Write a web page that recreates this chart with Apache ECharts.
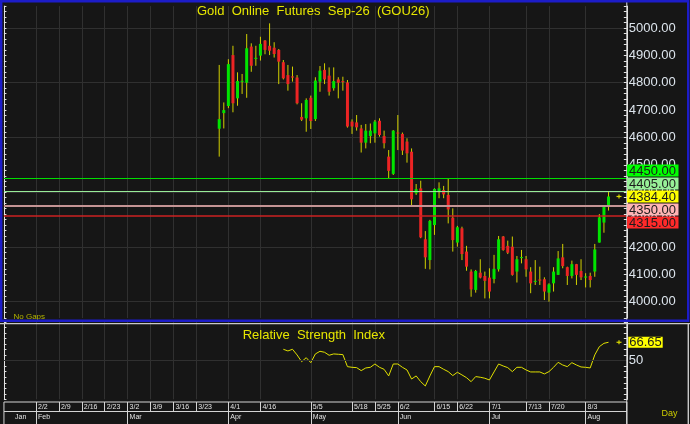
<!DOCTYPE html>
<html>
<head>
<meta charset="utf-8">
<script src="https://cdn.jsdelivr.net/npm/echarts@6/dist/echarts.min.js"></script>
<style>
html,body{margin:0;padding:0;background:#161616;}
#c{width:690px;height:424px;}
</style>
</head>
<body>
<div id="c"></div>
<script>
// ---------------- data ----------------
const N = 137;                 // day slots on the time axis
const firstCandleSlot = 47;    // slot of the first trading bar

const opens  = [4632,4689,4715,4901,4743,4804,4800,4932,4887,4899,4954,4935,4928,4920,4875,4828,4823,4819,4675,4670,
                4745,4667,4804,4847,4826,4780,4812,4806,4801,4658,4655,4633,4581,4605,4615,4661,4605,4530,4467,4618,
                4613,4585,4548,4396,4414,4228,4152,4280,4404,4408,4390,4307,4216,4268,4183,4110,4043,4106,4094,4088,
                4083,4118,4238,4204,4201,4110,4160,4155,4110,4073,4081,4082,4033,4067,4098,4162,4126,4094,4137,4112,
                4088,4094,4110,4216,4289,4350];
const closes = [4667,4700,4868,4725,4806,4807,4926,4862,4891,4942,4920,4917,4905,4877,4816,4795,4819,4725,4665,4737,
                4660,4808,4844,4812,4767,4806,4800,4802,4640,4640,4637,4581,4625,4625,4658,4609,4579,4478,4625,4615,
                4552,4542,4374,4411,4235,4162,4295,4412,4414,4392,4337,4225,4272,4174,4128,4045,4112,4088,4076,4037,
                4120,4228,4189,4179,4098,4155,4163,4118,4067,4076,4077,4037,4063,4110,4158,4130,4094,4137,4098,4089,
                4092,4079,4191,4308,4347,4384.40];
const lows   = [4530,4633,4707,4692,4716,4759,4745,4840,4862,4881,4904,4901,4892,4795,4812,4771,4804,4721,4660,4621,
                4631,4660,4767,4795,4753,4771,4743,4771,4636,4613,4625,4545,4560,4579,4581,4603,4560,4451,4463,4554,
                4536,4508,4347,4390,4232,4120,4118,4244,4378,4378,4286,4183,4201,4152,4113,4018,4033,4085,4012,4012,
                4067,4110,4186,4174,4095,4070,4140,4091,4031,4061,4061,4006,4000,4037,4098,4122,4061,4085,4061,4079,
                4052,4052,4091,4216,4252,4333];
const highs  = [4865,4728,4886,4935,4838,4832,4978,4944,4935,4968,4956,5017,4948,4923,4883,4865,4859,4828,4725,4743,
                4753,4820,4861,4871,4856,4856,4820,4822,4810,4666,4682,4646,4649,4651,4664,4670,4625,4554,4627,4682,
                4618,4597,4560,4430,4442,4258,4299,4414,4436,4423,4451,4341,4277,4274,4204,4118,4116,4155,4110,4122,
                4171,4240,4240,4223,4238,4167,4189,4167,4126,4152,4128,4089,4067,4126,4185,4211,4128,4150,4138,4155,
                4104,4106,4211,4320,4350,4402];

const rsiStart = 14;   // bar index where the RSI line begins
const rsiValues = [60.3,58.8,60.3,55.2,49.1,52.7,48.2,56.1,58.5,57.6,54.9,56.1,55.8,55.5,
                   44.6,44.0,43.7,41.0,43.4,44.0,47.0,44.0,42.2,36.2,47.0,47.0,44.0,41.6,33.4,36.2,31.0,27.1,
                   36.2,44.6,44.6,42.2,40.1,36.5,39.5,37.1,34.6,31.0,35.6,35.0,34.1,32.5,39.8,47.0,45.2,43.7,
                   40.1,44.0,44.0,41.6,39.8,39.8,39.8,38.0,40.1,44.0,48.5,46.1,44.6,48.2,46.1,44.3,44.0,43.4,
                   55.2,62.7,65.7,66.65];

const weekLabels = ['2/2','2/9','2/16','2/23','3/2','3/9','3/16','3/23','4/1','4/16','5/5','5/18','5/25','6/2','6/15','6/22','7/1','7/13','7/20','8/3'];
const weekSlots  = [7,12,17,22,27,32,37,42,49,56,67,76,81,86,94,99,106,114,119,127];
const monthLabels = ['Jan','Feb','Mar','Apr','May','Jun','Jul','Aug'];
const monthSlots  = [2,7,27,49,67,86,106,127];   // Jan label sits inside the partial first month

const levelValues = [4450.00, 4405.00, 4350.00, 4315.00];
const lastPrice = 4384.40;
const titleText = 'Gold  Online  Futures  Sep-26  (GOU26)';
const rsiTitle = 'Relative  Strength  Index';

// ---------------- style ----------------
const FONT = '"Liberation Sans", Arial, sans-serif';
const GRID_LINE = '#303030';
const AXIS_WHITE = '#e2e2e2';
const LABEL = '#dce4ec';
const YELLOW = '#e6e600';
const levelStyles = [
  {line:'#00dd00', width:1.2, tag:'#00ff00'},
  {line:'#98ec98', width:1,   tag:'#98f098'},
  {line:'#c49494', width:2,   tag:'#ffb4b4'},
  {line:'#cc2222', width:1.5, tag:'#ff2a2a'}
];
const GL = 3.94, GW = 622.9;

// ---------------- build ----------------
const cats = Array.from({length:N}, (_, i) => String(i));
const weekAt = {}; weekSlots.forEach((s, i) => weekAt[s] = weekLabels[i]);
const monthAt = {}; monthSlots.forEach((s, i) => monthAt[s] = monthLabels[i]);
const monthBoundary = {}; monthSlots.slice(1).forEach(s => monthBoundary[s] = true);
const isWeek = (i) => weekAt[i] !== undefined;

const candleData = opens.map((o, j) => [firstCandleSlot + j, o, closes[j], lows[j], highs[j]]);
const rsiData = Array.from({length:N}, () => '-');
rsiValues.forEach((v, i) => { rsiData[firstCandleSlot + rsiStart + i] = v; });

function hiddenX(gridIndex){
  return {type:'category', data:cats, boundaryGap:false, gridIndex, show:false};
}
function gridX(gridIndex){
  return {type:'category', data:cats, boundaryGap:false, gridIndex,
    axisLine:{show:false}, axisTick:{show:false}, axisLabel:{show:false},
    splitLine:{show:true, interval:(i)=>isWeek(i), lineStyle:{color:GRID_LINE, width:1}}};
}
function tickY(gridIndex, pos, min, max, interval, len, labels){
  return {type:'value', gridIndex, position:pos, min, max, interval,
    axisLine:{show:true, lineStyle:{color:AXIS_WHITE, width:1}},
    axisTick:{show:true, inside:true, length:len, lineStyle:{color:AXIS_WHITE, width:1}},
    axisLabel: labels || {show:false},
    splitLine:{show:false}};
}

const option = {
  animation:false,
  backgroundColor:'#161616',
  textStyle:{fontFamily:FONT},
  grid:[
    {left:GL, top:6.1,  width:GW, height:312,   outerBoundsMode:'none'},
    {left:GL, top:28.0, width:GW, height:273.7, outerBoundsMode:'none'},
    {left:GL, top:322.0,width:GW, height:77.35, outerBoundsMode:'none'},
    {left:GL, top:402,  width:GW, height:9.5, show:true, borderColor:'#d4d4d4', borderWidth:1, backgroundColor:'transparent', outerBoundsMode:'none'},
    {left:GL, top:411.5,width:GW, height:14,  show:true, borderColor:'#d4d4d4', borderWidth:1, backgroundColor:'transparent', outerBoundsMode:'none'}
  ],
  xAxis:[
    gridX(0),
    hiddenX(1),
    gridX(2),
    {type:'category', data:cats, boundaryGap:false, gridIndex:3, position:'top',
      axisLine:{show:false}, axisTick:{show:false},
      splitLine:{show:true, interval:(i)=>isWeek(i), lineStyle:{color:'#d4d4d4', width:1}},
      axisLabel:{show:true, inside:true, interval:(i)=>isWeek(i), formatter:(v, i)=>weekAt[i] || '',
        align:'left', verticalAlign:'middle', margin:4.75, padding:[0,0,0,2],
        fontSize:7, color:'#e4e4e4', fontFamily:FONT, hideOverlap:false}},
    {type:'category', data:cats, boundaryGap:false, gridIndex:4, position:'top',
      axisLine:{show:false}, axisTick:{show:false},
      splitLine:{show:true, interval:(i)=>monthBoundary[i] === true, lineStyle:{color:'#d4d4d4', width:1}},
      axisLabel:{show:true, inside:true, interval:(i)=>monthAt[i] !== undefined, formatter:(v, i)=>monthAt[i] || '',
        align:'left', verticalAlign:'middle', margin:6, padding:[0,0,0,2],
        fontSize:7, color:'#e4e4e4', fontFamily:FONT, hideOverlap:false}}
  ],
  yAxis:[
    tickY(0, 'right', 3940, 5080, 20, 3),
    tickY(0, 'left', 3940, 5080, 20, 2.5),
    {type:'value', gridIndex:1, position:'right', min:4000, max:5000, interval:100,
      axisLine:{show:false}, axisTick:{show:false}, splitLine:{show:false},
      axisLabel:{show:true, margin:2, formatter:(v)=>v.toFixed(2), color:LABEL, fontSize:13, fontFamily:FONT, hideOverlap:false}},
    {type:'value', gridIndex:1, position:'left', min:4000, max:5000, interval:200,
      axisLine:{show:false}, axisTick:{show:false}, axisLabel:{show:false},
      splitLine:{show:true, lineStyle:{color:GRID_LINE, width:1}}},
    tickY(2, 'right', 15, 85, 5, 3, {show:true, margin:2, formatter:(v)=> v === 50 ? '50' : '',
      color:LABEL, fontSize:13, fontFamily:FONT, hideOverlap:false}),
    tickY(2, 'left', 15, 85, 5, 2.5),
    {type:'value', gridIndex:3, show:false},
    {type:'value', gridIndex:4, show:false}
  ],
  series:[
    {
      type:'custom', name:'GOU26', xAxisIndex:0, yAxisIndex:0, clip:true,
      data:candleData, encode:{x:0, y:[1,2,3,4]},
      renderItem:function(params, api){
        const x = api.value(0), o = api.value(1), c = api.value(2), l = api.value(3), h = api.value(4);
        const pO = api.coord([x, o]), pC = api.coord([x, c]);
        const pL = api.coord([x, l]), pH = api.coord([x, h]);
        const bw = 3;
        const top = Math.min(pO[1], pC[1]);
        const hgt = Math.max(1, Math.abs(pO[1] - pC[1]));
        const up = c >= o;
        return {type:'group', children:[
          {type:'line', shape:{x1:pH[0], y1:pH[1], x2:pL[0], y2:pL[1]}, style:{stroke:'#d2d000', lineWidth:1}},
          {type:'rect', shape:{x:pO[0]-bw/2, y:top, width:bw, height:hgt}, style:{fill: up ? '#00e400' : '#ec2424'}}
        ]};
      },
      markLine:{
        silent:true, symbol:['none','none'], label:{show:false}, animation:false,
        data: levelValues.map((v, i) => ({yAxis:v, lineStyle:{color:levelStyles[i].line, width:levelStyles[i].width, type:'solid'}}))
      }
    },
    {
      type:'line', name:'RSI', xAxisIndex:2, yAxisIndex:4, data:rsiData,
      showSymbol:false, symbol:'none', connectNulls:false,
      lineStyle:{color:'#e0e000', width:1},
      markLine:{silent:true, symbol:['none','none'], label:{show:false}, animation:false,
        data:[{yAxis:50, lineStyle:{color:GRID_LINE, width:1, type:'solid'}}]}
    }
  ]
};

const chart = echarts.init(document.getElementById('c'), null, {renderer:'canvas'});
chart.setOption(option);

// ---------------- overlays (tags, titles, frames) ----------------
const yPrice = v => chart.convertToPixel({yAxisIndex:0}, v);
const yRsi = v => chart.convertToPixel({yAxisIndex:4}, v);

const tags = levelValues.map((v, i) => ({v, bg:levelStyles[i].tag}))
  .concat([{v:lastPrice, bg:'#ffff00', last:true}])
  .sort((a, b) => b.v - a.v);
const anchor = tags.findIndex(t => t.last);
const anchorY = yPrice(lastPrice);
const TAG_STEP = 13;
const g = [];
tags.forEach((t, k) => {
  const yc = anchorY + (k - anchor) * TAG_STEP;
  g.push({type:'rect', z:100, shape:{x:627, y:yc-6, width:51.5, height:12}, style:{fill:t.bg}});
  g.push({type:'text', z:101, x:629, y:yc+0.5, style:{text:t.v.toFixed(2), fill:'#1c1c1c', font:'13px '+FONT, align:'left', verticalAlign:'middle'}});
});
function plus(x, y){
  g.push({type:'line', z:101, shape:{x1:x-2.5, y1:y, x2:x+2.5, y2:y}, style:{stroke:'#d8d800', lineWidth:1.2}});
  g.push({type:'line', z:101, shape:{x1:x, y1:y-2, x2:x, y2:y+2}, style:{stroke:'#d8d800', lineWidth:1.2}});
}
plus(619, anchorY);
const lastRsi = rsiValues[rsiValues.length - 1];
const ry = yRsi(lastRsi);
plus(619, ry);
g.push({type:'rect', z:100, shape:{x:628.3, y:ry-5.5, width:34.4, height:11}, style:{fill:'#ffff00'}});
g.push({type:'text', z:101, x:629.3, y:ry+0.5, style:{text:lastRsi.toFixed(2), fill:'#1c1c1c', font:'13px '+FONT, align:'left', verticalAlign:'middle'}});

// titles and notes
g.push({type:'text', z:101, x:197, y:11.5, style:{text:titleText, fill:YELLOW, font:'13px '+FONT, align:'left', verticalAlign:'middle'}});
g.push({type:'text', z:101, x:242.7, y:335.5, style:{text:rsiTitle, fill:YELLOW, font:'13px '+FONT, align:'left', verticalAlign:'middle'}});
g.push({type:'text', z:101, x:13.5, y:317, style:{text:'No Gaps', fill:'#b4b400', font:'8px '+FONT, align:'left', verticalAlign:'middle'}});
g.push({type:'text', z:101, x:661.5, y:413.5, style:{text:'Day', fill:'#cccc00', font:'9px '+FONT, align:'left', verticalAlign:'middle'}});

// frames
g.push({type:'line', z:99, shape:{x1:626.8, y1:0, x2:626.8, y2:424}, style:{stroke:AXIS_WHITE, lineWidth:1}});
g.push({type:'rect', z:102, shape:{x:1.2, y:1.2, width:687, height:319.6}, style:{fill:'none', stroke:'#1c1cc8', lineWidth:2.4}});
g.push({type:'line', z:102, shape:{x1:0, y1:323.6, x2:690, y2:323.6}, style:{stroke:'#c8c8c8', lineWidth:1.4}});
g.push({type:'line', z:102, shape:{x1:688.3, y1:323.6, x2:688.3, y2:424}, style:{stroke:'#c8c8c8', lineWidth:1.4}});

chart.setOption({graphic:{elements:g}});
</script>
</body>
</html>
